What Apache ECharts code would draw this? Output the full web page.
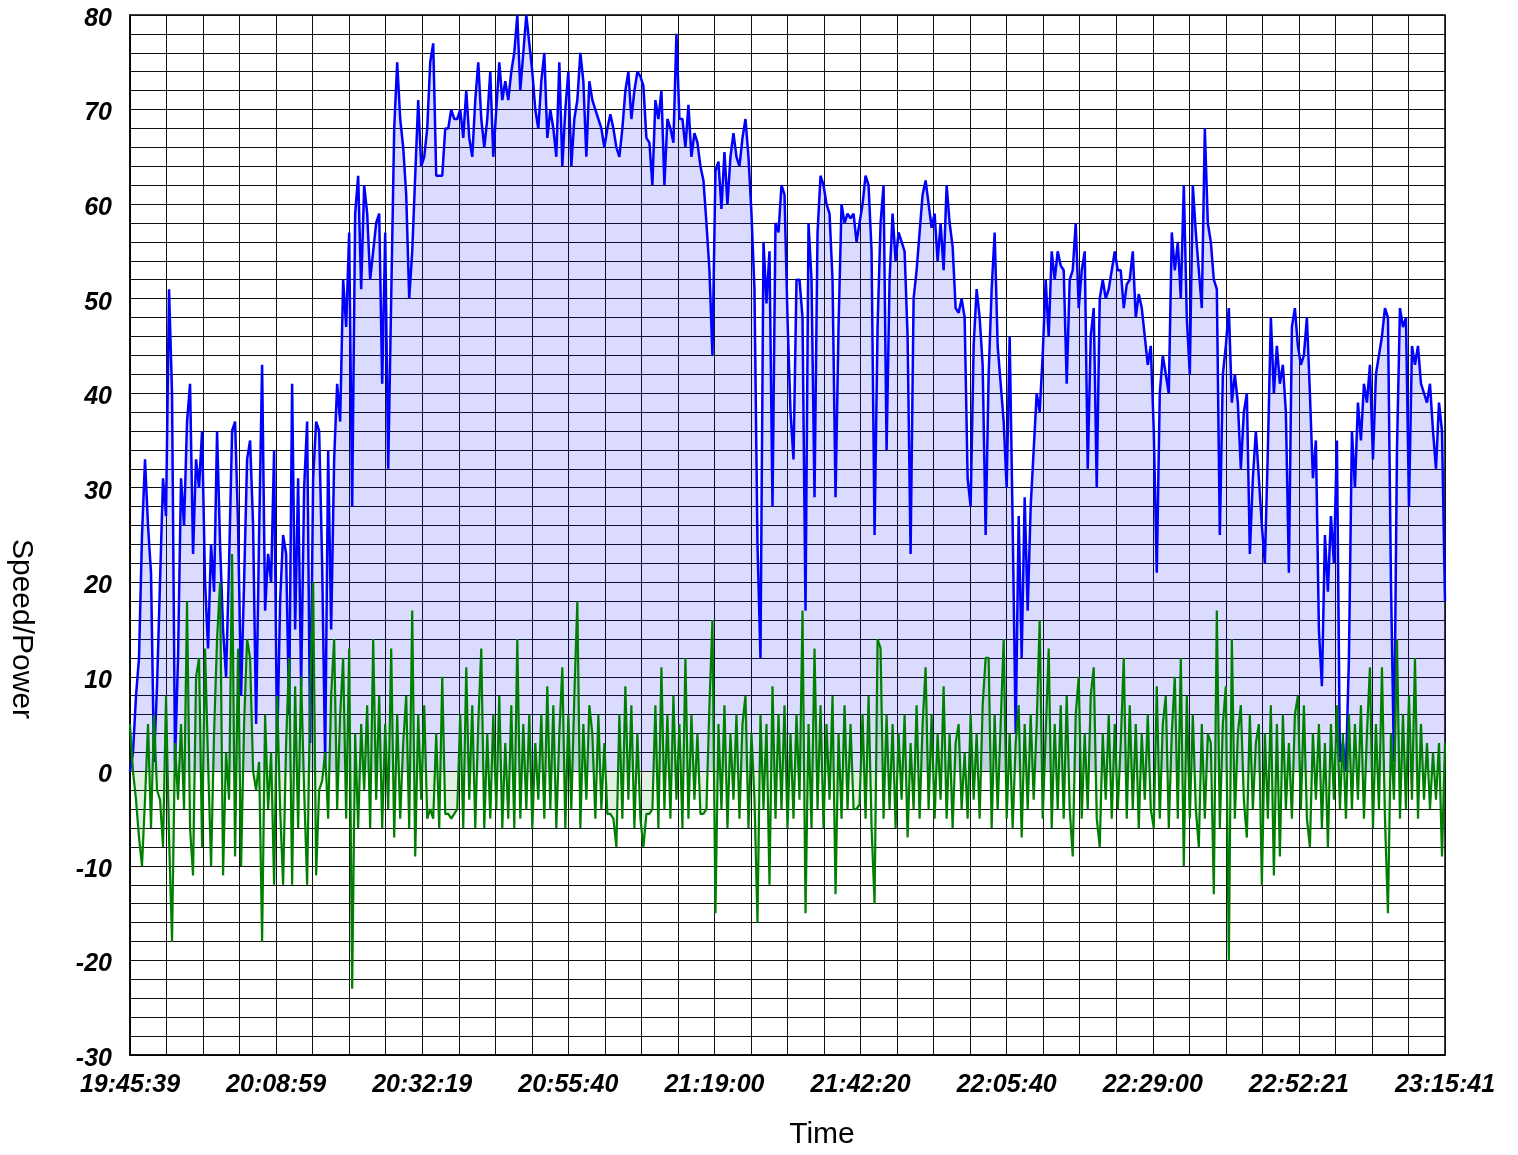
<!DOCTYPE html>
<html>
<head>
<meta charset="utf-8">
<script src="https://cdn.jsdelivr.net/npm/echarts@6/dist/echarts.min.js"></script>
<style>
html,body{margin:0;padding:0;background:#fff;}
#chart{width:1518px;height:1155px;}
</style>
</head>
<body>
<div id="chart"></div>
<script>
// Tick labels of the time axis (9 equal intervals between start and end)
var xTickLabels = ['19:45:39','20:08:59','20:32:19','20:55:40','21:19:00','21:42:20','22:05:40','22:29:00','22:52:21','23:15:41'];

// Speed samples (evenly spaced in time, start to end)
var speed = [
0,2,8,12,25,33,26,21,1,9,20,31,27,51,40,1,12,31,26,37,
41,23,33,30,36,20,13,24,19,36,24,15,10,22,36,37,26,8,20,33,
35,26,5,25,43,17,23,20,34,2,18,25,23,6,41,15,31,9,30,37,
3,31,37,36,22,1,34,15,33,41,37,52,47,57,28,59,63,51,62,59,
52,55,58,59,41,57,32,50,68,75,69,66,61,50,55,63,71,64,65,68,
75,77,63,63,63,68,68,70,69,69,70,67,72,67,65,71,75,69,66,69,
74,65,70,75,71,73,71,74,76,80,72,76,80,77,74,70,68,73,76,67,
70,68,65,75,64,70,74,64,69,71,76,73,65,73,71,70,69,68,66,68,
69.5,68,66,65,68,72,74,69,72,74,73.5,72.5,67,66.5,62,71,69,72,62,69,
68,66.5,78,69,69,66,70.5,65,67.5,66.5,64,62.5,58,53,44,63.5,64.5,59.5,65.5,60,
65,67.5,65,64,67,69,65,59,51,24,12,56,49.5,55,28,58,57,62,61,48,
38,33,52,52,48,17,58,52,29,57,63,62,60,59,52,29,47,60,58,59,
58.5,59,56,58,60,63,62,55,25,47,58,62,34,52,59,54,57,56,55,46,
23,50,53,57,61,62.5,60,57.5,59,54,58,53,62,58,55.5,49,48.5,50,48,31,
28,45,51,48,43,25,42,51,57,45,41,37,30,46,26,4,27,12,29,17,
28,34,40,38,44,52,46,55,52,55,53.5,53,41,52,53,58,49,53,55,32,
46,49,30,50,52,50,51,53,55,53,53,49,51.5,52,55,48,50.5,49,46,43,
45,36,21,40,44,42,40,57,53,56,50,62,48,42,62,57,53,49,68,58,
56,52,51,25,42,45,49,39,42,39,32,38,40,23,31,36,31,26,22,34,
48,40,45,41,43,38,21,47,49,45,43,44,48,40,31,35,15,9,25,19,
27,22,35,1,3,0,12,36,30,39,35,41,39,43,33,42,44,46,49,48,
20,1,34,49,47,48,28,45,43,45,41,40,39,41,36,32,39,36,18
];

// Power samples (same time grid as speed)
var power = [
5,0,-3,-7,-10,-3,5,-6,6,-2,-3,-8,8,-7,-18,3,-3,5,-4,18,
-6,-11,10,12,-8,13,1,-10,4,14,20,-11,2,-3,23,-9,13,-10,5,14,
12,0,-2,1,-18,6,-4,2,-12,8,-4,-12,3,12,-12,9,-6,10,-2,-12,
8,20,-11,-2,-1,2,-5,8,14,-4,6,12,-5,13,-23,4,-6,5,-2,7,
-6,14,-3,8,-6,5,-4,13,-7,6,-5,3,8,-6,17,-9,6,-3,7,-5,
-4,-5,4,-6,10,-4.5,-4.5,-5,-4.5,-4,6,-6,11,-3,7,-6,5,13,-6,4,
-5,6,-4,8,-6,3,-5,7,-6,14,-5,5,-4,6,-6,3,-3,6,-5,9,
-4,7,-6,4,11,-6,6,-4,8,18,-6,5,-3,7,4,-5,6,-4,3,-4.5,
-4.5,-5,-8,6,-5,9,-3,7,-6,4,-5,-8,-4.5,-4.5,-4,7,-6,11,-4,6,
-5,8,-3,5,-6,12,-5,6,-3,4,-4.5,-4.5,-4,7,16,-15,5,-4,7,-6,
4,-3,6,-5,5,8,-6,4,-3,-16,6,-4,5,-12,9,-5,6,-4,7,-6,
4,-5,6,-3,17,-15,5,-6,13,-4,7,-6,5,-3,8,-13,4,-5,7,-4,
5,-4,-4,-3.5,6,-5,8,-6,-14,14,13,-5,6,-4,5,-6,4,-3,6,-7,
3,-4,7,-5,5,11,-4,6,-5,4,-3,9,-5,4,-6,3,5,-4,2,-5,
6,-3,4,-5,7,12,12,-6,6,-4,5,14,-5,4,-6,3,7,-7,5,-4,
6,-3,5,16,-5,4,13,-6,5,-4,7,-5,8,-4,-9,6,10,-5,4,-4,
8,11,-5,-8,4,-3,6,-5,5,-4,3,12,-5,7,-4,5,-6,4,-3,6,
-4,-6,9,-5,5,8,-6,4,10,-5,12,-10,8,-5,6,-4,-8,5,-5,4,
3,-13,17,-6,5,9,-20,14,-5,4,7,-3,-7,6,-4,3,5,-12,4,-5,
7,-11,5,-9,6,-4,3,-5,6,8,-4,7,-5,-8,4,-3,5,-6,3,-8,
5,-3,7,-4,4,-5,6,-4,5,-3,7,-5,4,11,-6,5,-4,11,-5,-15,
4,-3,14,-5,6,-4,8,-3,12,-5,5,-3,3,-4,2,-3,3,-9,3
];

var GRID_UNITS = 36; // x axis spans 36 minor grid cells, labels every 4
function toPairs(arr) {
  var n = arr.length, out = [];
  for (var i = 0; i < n; i++) out.push([i * GRID_UNITS / (n - 1), arr[i]]);
  return out;
}

var chart = echarts.init(document.getElementById('chart'), null, {renderer: 'canvas'});
var gridLine = {show: true, lineStyle: {color: '#111', width: 1}};
var tickFont = {color: '#000', fontFamily: '"Liberation Sans", Arial, Helvetica, sans-serif', fontSize: 25, fontWeight: 'bold', fontStyle: 'italic'};

chart.setOption({
  animation: false,
  backgroundColor: '#fff',
  grid: {left: 130, right: 73, top: 15, bottom: 100, show: true, borderColor: '#000', borderWidth: 1.5, containLabel: false},
  xAxis: {
    type: 'value', min: 0, max: GRID_UNITS, interval: 4,
    axisLine: {show: true, onZero: false, lineStyle: {color: '#000', width: 1.5}},
    axisTick: {show: false},
    splitLine: gridLine,
    minorTick: {show: false, splitNumber: 4},
    minorSplitLine: gridLine,
    axisLabel: Object.assign({margin: 18, showMinLabel: true, showMaxLabel: true, hideOverlap: false,
      formatter: function (v) { return xTickLabels[Math.round(v / 4)]; }}, tickFont)
  },
  yAxis: {
    type: 'value', min: -30, max: 80, interval: 10,
    axisLine: {show: true, lineStyle: {color: '#000', width: 1.5}},
    axisTick: {show: false},
    splitLine: gridLine,
    minorTick: {show: false, splitNumber: 5},
    minorSplitLine: gridLine,
    axisLabel: Object.assign({margin: 18, verticalAlign: 'top', lineHeight: 8}, tickFont)
  },
  graphic: [
    {type: 'text', x: 21, y: 629, rotation: -Math.PI / 2,
     style: {text: 'Speed/Power', fill: '#000', font: '30px "Liberation Sans", Arial, sans-serif', align: 'center', verticalAlign: 'middle', textAlign: 'center', textVerticalAlign: 'middle'}},
    {type: 'text', x: 822, y: 1135,
     style: {text: 'Time', fill: '#000', font: '30px "Liberation Sans", Arial, sans-serif', align: 'center', verticalAlign: 'middle', textAlign: 'center', textVerticalAlign: 'middle'}}
  ],
  series: [
    {name: 'Speed', type: 'line', data: toPairs(speed), showSymbol: false, symbol: 'none', sampling: null,
     lineStyle: {color: '#0000ff', width: 2.5}, itemStyle: {color: '#0000ff'},
     areaStyle: {color: 'rgba(0,0,255,0.2)', origin: 0}},
    {name: 'Power', type: 'line', data: toPairs(power), showSymbol: false, symbol: 'none', sampling: null,
     lineStyle: {color: '#008000', width: 2.2}, itemStyle: {color: '#008000'},
     areaStyle: {color: 'rgba(0,128,0,0.17)', origin: 0}}
  ]
});
</script>
</body>
</html>
